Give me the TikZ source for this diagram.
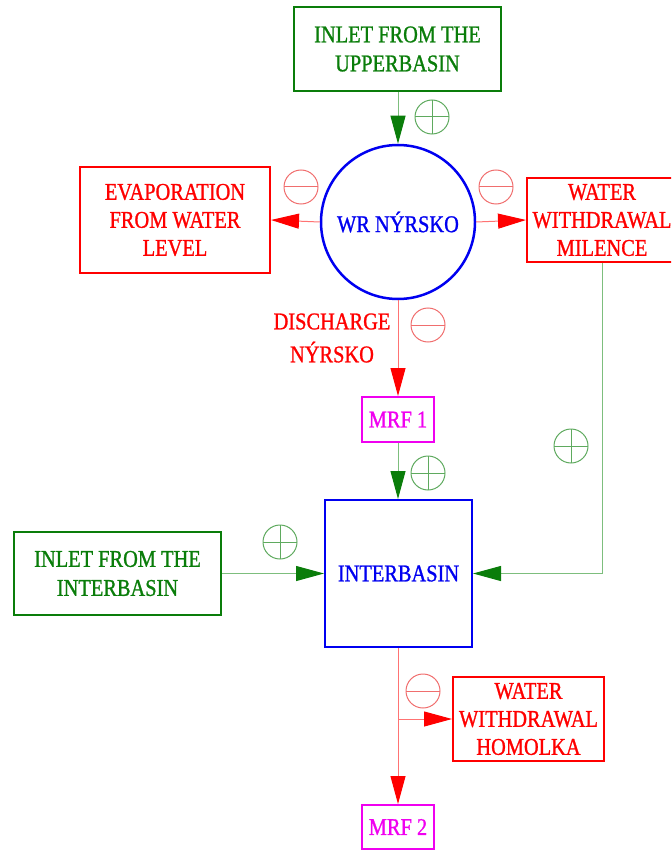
\documentclass[tikz,border=0pt]{standalone}
\usepackage{fontspec}
\setmainfont{Liberation Serif}[FakeStretch=0.85,FakeBold=1]
\usetikzlibrary{arrows.meta}
\definecolor{dkgreen}{RGB}{10,125,10}
\definecolor{ltgreen}{RGB}{125,190,125}
\definecolor{sgngreen}{RGB}{95,170,95}
\definecolor{myred}{RGB}{255,0,0}
\definecolor{ltred}{RGB}{255,115,115}
\definecolor{sgnred}{RGB}{240,110,110}
\definecolor{myblue}{RGB}{0,0,240}
\definecolor{mymag}{RGB}{240,0,240}
\tikzset{
  lbl/.style={font=\fontsize{24}{28}\selectfont, align=center, inner sep=0pt},
  gbox/.style={lbl, draw=dkgreen, line width=2pt, text=dkgreen},
  rbox/.style={lbl, draw=myred, line width=2pt, text=myred},
  mbox/.style={lbl, draw=mymag, line width=2pt, text=mymag, minimum width=72pt, minimum height=45pt},
  bbox/.style={lbl, draw=myblue, line width=2pt, text=myblue},
  garrow/.style={draw=ltgreen, line width=1pt, -{Triangle[length=28pt,width=15pt,color=dkgreen]}},
  rarrow/.style={draw=ltred, line width=1pt, -{Triangle[length=28pt,width=15pt,color=myred]}},
  plussign/.style={circle, draw=sgngreen, line width=1pt, minimum size=34pt, inner sep=0pt,
    path picture={\draw[sgngreen, line width=1pt] (path picture bounding box.west) -- (path picture bounding box.east)
      (path picture bounding box.north) -- (path picture bounding box.south);}},
  minussign/.style={circle, draw=sgnred, line width=1pt, minimum size=34pt, inner sep=0pt,
    path picture={\draw[sgnred, line width=1pt] (path picture bounding box.west) -- (path picture bounding box.east);}},
}
\begin{document}
\begin{tikzpicture}[x=1pt,y=-1pt]
\useasboundingbox (0,0) rectangle (671,850);
\begin{scope}
\clip (0,0) rectangle (671,850);
\node[gbox, minimum width=207pt, minimum height=84pt, font=\fontsize{24}{29}\selectfont] (up) at (397.5,49) {INLET FROM THE\\UPPERBASIN};
\node[bbox, circle, line width=2.5pt, minimum size=154pt] (wr) at (398,222) {WR NÝRSKO};
\node[rbox, minimum width=190pt, minimum height=106pt] (evap) at (175,220) {EVAPORATION\\FROM WATER\\LEVEL};
\node[rbox, minimum width=150pt, minimum height=84pt] (mil) at (602,220) {WATER\\WITHDRAWAL\\MILENCE};
\node[mbox] (mrf1) at (398,419.5) {MRF 1};
\node[bbox, minimum width=147pt, minimum height=147pt] (inter) at (398.5,573.5) {INTERBASIN};
\node[gbox, minimum width=207pt, minimum height=83pt, font=\fontsize{24}{29}\selectfont] (inl) at (117.5,573.5) {INLET FROM THE\\INTERBASIN};
\node[rbox, minimum width=151pt, minimum height=84pt] (hom) at (528.5,719) {WATER\\WITHDRAWAL\\HOMOLKA};
\node[mbox, minimum height=44pt] (mrf2) at (398,827) {MRF 2};
\node[lbl, text=myred, font=\fontsize{24}{33}\selectfont] (dis) at (332,338) {DISCHARGE\\NÝRSKO};

\node[plussign] (p1) at (432,117) {};
\node[minussign] (m1) at (301,187) {};
\node[minussign] (m2) at (496,187) {};
\node[minussign] (m3) at (428,325) {};
\node[plussign] (p2) at (428,473) {};
\node[plussign] (p3) at (280,542) {};
\node[plussign] (p4) at (571,446) {};
\node[minussign] (m4) at (423,691) {};

\draw[garrow] (up.south -| wr.north) -- (wr.north);
\draw[rarrow] (wr.west) -- (evap.east);
\draw[rarrow] (wr.east) -- (mil.west);
\draw[rarrow] (wr.south) -- (mrf1.north);
\draw[garrow] (mrf1.south) -- (inter.north -| mrf1.south);
\draw[garrow] (inl.east) -- (inter.west);
\draw[garrow] (mil.south) |- (inter.east);
\coordinate (br) at (mrf2.north |- hom.west);
\draw[rarrow] (inter.south -| mrf2.north) -- (mrf2.north);
\draw[rarrow] (br) -- (hom.west);
\end{scope}
\end{tikzpicture}
\end{document}
